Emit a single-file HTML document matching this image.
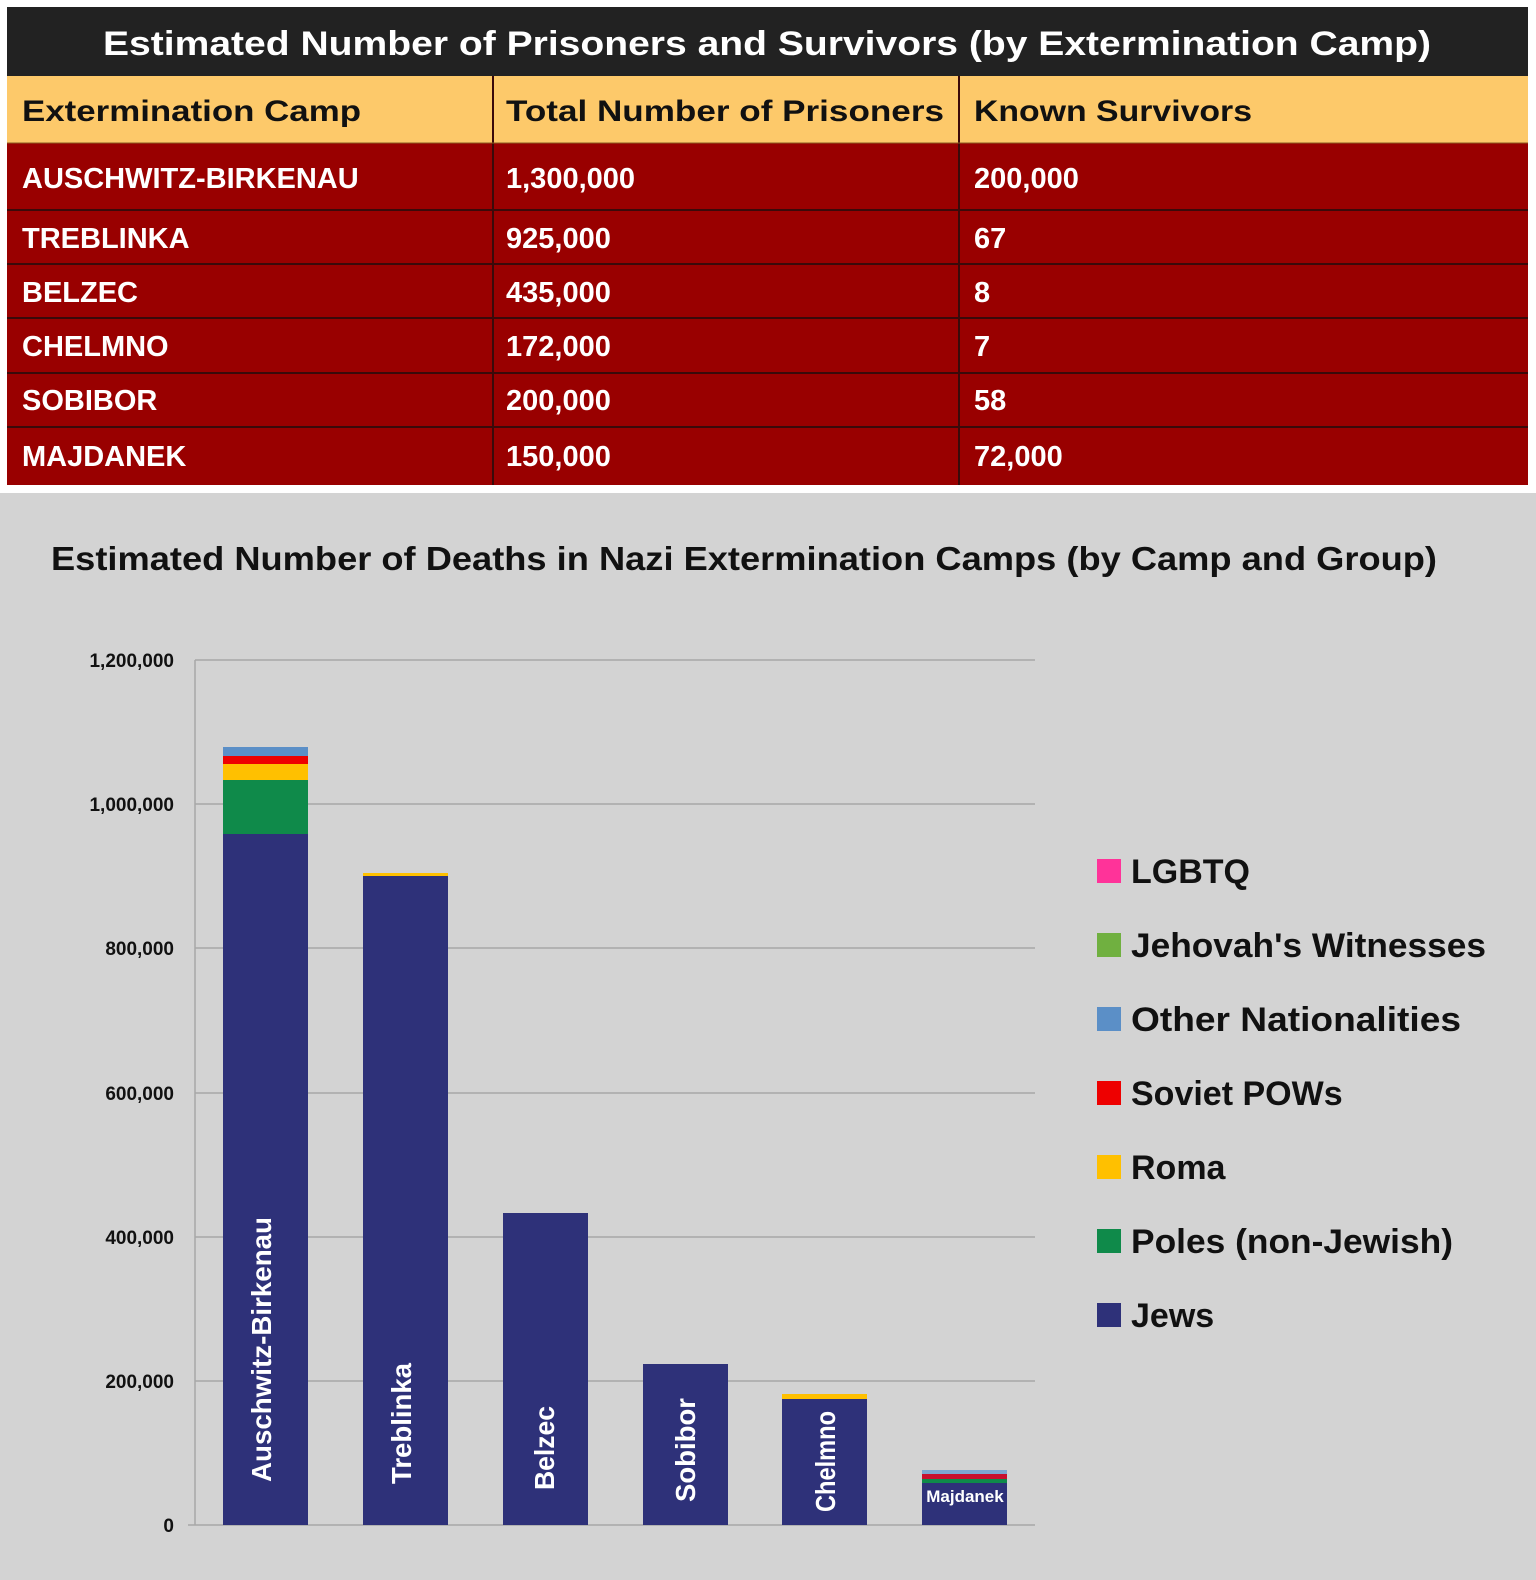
<!DOCTYPE html>
<html><head><meta charset="utf-8"><style>
html,body{margin:0;padding:0;background:#fff}
svg{display:block}
text{font-family:"Liberation Sans",sans-serif;font-weight:bold}
</style></head><body>
<svg width="1536" height="1580" viewBox="0 0 1536 1580" xmlns="http://www.w3.org/2000/svg">
<rect width="1536" height="1580" fill="#fff"/>
<!-- table -->
<rect x="7" y="7" width="1521" height="69" fill="#222"/>
<text x="767" y="55" fill="#fff" font-size="34" text-anchor="middle" textLength="1328" lengthAdjust="spacingAndGlyphs">Estimated Number of Prisoners and Survivors (by Extermination Camp)</text>
<rect x="7" y="76" width="1521" height="67" fill="#fdc96a"/>
<rect x="7" y="143" width="1521" height="342" fill="#990000"/>
<g stroke="#3a0a0a" stroke-width="2">
<line x1="7" y1="210" x2="1528" y2="210"/><line x1="7" y1="264" x2="1528" y2="264"/>
<line x1="7" y1="318" x2="1528" y2="318"/><line x1="7" y1="373" x2="1528" y2="373"/>
<line x1="7" y1="427" x2="1528" y2="427"/>
<line x1="493" y1="76" x2="493" y2="485"/><line x1="959" y1="76" x2="959" y2="485"/>
</g>
<line x1="7" y1="143" x2="1528" y2="143" stroke="#8a5a20" stroke-width="1"/>
<g font-size="30" fill="#111">
<text x="22" y="121" textLength="339" lengthAdjust="spacingAndGlyphs">Extermination Camp</text>
<text x="506" y="121" textLength="438" lengthAdjust="spacingAndGlyphs">Total Number of Prisoners</text>
<text x="974" y="121" textLength="278" lengthAdjust="spacingAndGlyphs">Known Survivors</text>
</g>
<g font-size="29" fill="#fff">
<text x="22" y="188">AUSCHWITZ-BIRKENAU</text><text x="506" y="188">1,300,000</text><text x="974" y="188">200,000</text>
<text x="22" y="248">TREBLINKA</text><text x="506" y="248">925,000</text><text x="974" y="248">67</text>
<text x="22" y="302">BELZEC</text><text x="506" y="302">435,000</text><text x="974" y="302">8</text>
<text x="22" y="356">CHELMNO</text><text x="506" y="356">172,000</text><text x="974" y="356">7</text>
<text x="22" y="410">SOBIBOR</text><text x="506" y="410">200,000</text><text x="974" y="410">58</text>
<text x="22" y="466">MAJDANEK</text><text x="506" y="466">150,000</text><text x="974" y="466">72,000</text>
</g>
<!-- chart -->
<rect x="0" y="493" width="1536" height="1087" fill="#d3d3d3"/>
<text x="51" y="570" font-size="33" fill="#111" textLength="1386" lengthAdjust="spacingAndGlyphs">Estimated Number of Deaths in Nazi Extermination Camps (by Camp and Group)</text>
<g stroke="#a8a8a8" stroke-width="1.5">
<line x1="195" y1="660" x2="1035" y2="660"/><line x1="195" y1="804" x2="1035" y2="804"/>
<line x1="195" y1="948" x2="1035" y2="948"/><line x1="195" y1="1093" x2="1035" y2="1093"/>
<line x1="195" y1="1237" x2="1035" y2="1237"/><line x1="195" y1="1381" x2="1035" y2="1381"/>
<line x1="188" y1="1525" x2="1035" y2="1525"/>
<line x1="195" y1="660" x2="195" y2="1525"/>
</g>
<g font-size="19" fill="#111" text-anchor="end">
<text x="174" y="667">1,200,000</text><text x="174" y="811">1,000,000</text>
<text x="174" y="955">800,000</text><text x="174" y="1100">600,000</text>
<text x="174" y="1244">400,000</text><text x="174" y="1388">200,000</text>
<text x="174" y="1532">0</text>
</g>
<!-- bars -->
<rect x="223" y="747" width="85" height="9" fill="#5b8fc7"/>
<rect x="223" y="756" width="85" height="8" fill="#ee0000"/>
<rect x="223" y="764" width="85" height="16" fill="#ffc000"/>
<rect x="223" y="780" width="85" height="54" fill="#0f8a4a"/>
<rect x="223" y="834" width="85" height="691" fill="#2e3179"/>
<rect x="363" y="873" width="85" height="3" fill="#ffc000"/>
<rect x="363" y="876" width="85" height="649" fill="#2e3179"/>
<rect x="503" y="1213" width="85" height="312" fill="#2e3179"/>
<rect x="643" y="1364" width="85" height="161" fill="#2e3179"/>
<rect x="782" y="1394" width="85" height="5" fill="#ffc000"/>
<rect x="782" y="1399" width="85" height="126" fill="#2e3179"/>
<rect x="922" y="1470" width="85" height="4" fill="#7ea6d0"/>
<rect x="922" y="1474" width="85" height="5" fill="#c8102e"/>
<rect x="922" y="1479" width="85" height="4" fill="#0f8a4a"/>
<rect x="922" y="1483" width="85" height="42" fill="#2e3179"/>
<g font-size="28" fill="#fff">
<text transform="translate(271,1482) rotate(-90)" textLength="265" lengthAdjust="spacingAndGlyphs">Auschwitz-Birkenau</text>
<text transform="translate(411,1484) rotate(-90)" textLength="121" lengthAdjust="spacingAndGlyphs">Treblinka</text>
<text transform="translate(554,1490) rotate(-90)" textLength="84" lengthAdjust="spacingAndGlyphs">Belzec</text>
<text transform="translate(695,1502) rotate(-90)" textLength="104" lengthAdjust="spacingAndGlyphs">Sobibor</text>
<text transform="translate(835,1512) rotate(-90)" textLength="101" lengthAdjust="spacingAndGlyphs">Chelmno</text>
</g>
<text x="965" y="1502" font-size="17" fill="#fff" text-anchor="middle">Majdanek</text>
<!-- legend -->
<g font-size="34" fill="#111">
<rect x="1097" y="859" width="24" height="24" fill="#ff3399"/><text x="1131" y="883">LGBTQ</text>
<rect x="1097" y="933" width="24" height="24" fill="#70b040"/><text x="1131" y="957" textLength="355" lengthAdjust="spacingAndGlyphs">Jehovah's Witnesses</text>
<rect x="1097" y="1007" width="24" height="24" fill="#5b8fc7"/><text x="1131" y="1031" textLength="330" lengthAdjust="spacingAndGlyphs">Other Nationalities</text>
<rect x="1097" y="1081" width="24" height="24" fill="#ee0000"/><text x="1131" y="1105">Soviet POWs</text>
<rect x="1097" y="1155" width="24" height="24" fill="#ffc000"/><text x="1131" y="1179">Roma</text>
<rect x="1097" y="1229" width="24" height="24" fill="#0f8a4a"/><text x="1131" y="1253" textLength="322" lengthAdjust="spacingAndGlyphs">Poles (non-Jewish)</text>
<rect x="1097" y="1303" width="24" height="24" fill="#2e3179"/><text x="1131" y="1327">Jews</text>
</g>
</svg>
</body></html>
